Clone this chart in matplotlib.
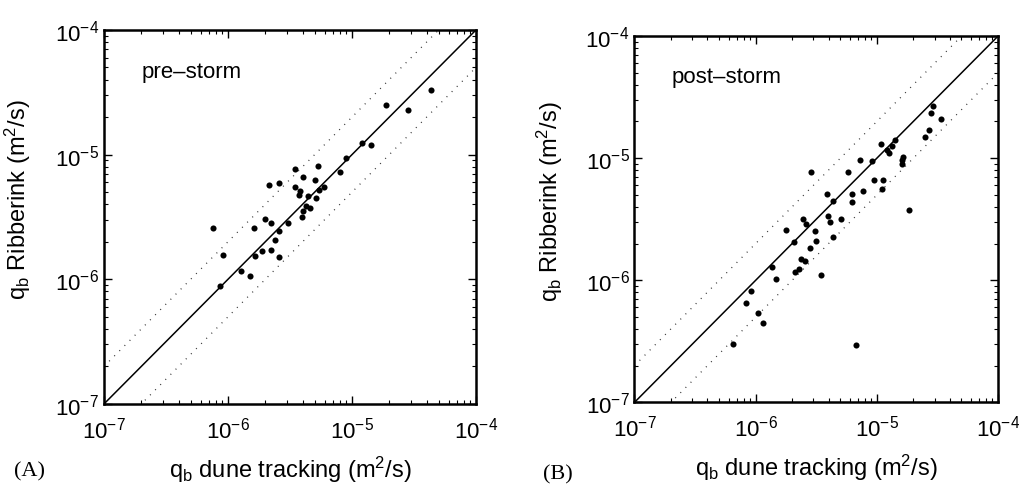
import matplotlib.pyplot as plt
import numpy as np

plt.rcParams['font.family'] = ['Liberation Sans', 'DejaVu Sans']
plt.rcParams['mathtext.fontset'] = 'custom'
plt.rcParams['mathtext.rm'] = 'Liberation Sans'
plt.rcParams['mathtext.it'] = 'Liberation Sans:italic'

# log10 of q_b values (m^2/s)
pre_log_tracking = [-4.365, -4.723, -4.548, -4.919, -4.849, -5.048, -5.099, -5.462, -5.277, -5.395,
                    -5.296, -5.667, -5.591, -5.457, -5.419, -5.425, -5.352, -5.264, -5.228, -5.293,
                    -5.371, -5.339, -5.398, -5.401, -5.699, -5.653, -5.519, -5.788, -6.123, -5.586,
                    -5.621, -5.728, -5.656, -5.780, -6.038, -5.591, -5.893, -5.823, -6.062]
pre_log_ribberink = [-4.481, -4.604, -4.642, -4.909, -4.923, -5.027, -5.141, -5.113, -5.088, -5.179,
                     -5.201, -5.246, -5.230, -5.257, -5.291, -5.324, -5.329, -5.281, -5.262, -5.345,
                     -5.409, -5.430, -5.449, -5.497, -5.519, -5.551, -5.548, -5.586, -5.591, -5.612,
                     -5.685, -5.770, -5.762, -5.810, -5.802, -5.821, -5.933, -5.973, -6.051]

post_log_tracking = [-4.535, -4.554, -4.568, -4.601, -4.848, -4.875, -4.966, -4.917, -4.898, -4.782,
                     -4.790, -4.795, -5.038, -5.137, -5.238, -5.546, -5.021, -4.950, -4.958, -5.112,
                     -5.412, -5.203, -5.208, -5.360, -4.733, -5.403, -5.389, -5.294, -5.607, -5.587,
                     -5.752, -5.513, -5.502, -5.360, -5.686, -5.554, -5.624, -5.596, -5.645, -5.673,
                     -5.464, -5.868, -5.833, -6.036, -6.078, -5.983, -5.937, -6.187, -5.172, -4.471]
post_log_ribberink = [-4.571, -4.633, -4.770, -4.830, -4.852, -4.898, -4.885, -4.931, -4.956, -4.989,
                      -5.016, -5.043, -5.024, -5.013, -5.116, -5.111, -5.182, -5.179, -5.253, -5.272,
                      -5.294, -5.292, -5.362, -5.349, -5.425, -5.474, -5.523, -5.499, -5.496, -5.537,
                      -5.586, -5.595, -5.676, -5.649, -5.690, -5.734, -5.826, -5.845, -5.911, -5.935,
                      -5.955, -5.892, -5.993, -6.091, -6.184, -6.266, -6.353, -6.520, -6.528, -4.680]

limits = (1e-7, 1e-4)
factor = 2.0


def draw_panel(ax, x_log, y_log, label):
    line = np.array(limits)
    ax.plot(line, line, color='black', lw=1.1)
    ax.plot(line, line * factor, color='#333333', lw=0.9, linestyle=(0, (0.8, 5)))
    ax.plot(line, line / factor, color='#333333', lw=0.9, linestyle=(0, (0.8, 5)))
    ax.plot(10 ** np.array(x_log), 10 ** np.array(y_log), 'o', color='black', markersize=4.4,
            markeredgewidth=0)
    ax.set_xscale('log')
    ax.set_yscale('log')
    ax.set_xlim(limits)
    ax.set_ylim(limits)
    ax.tick_params(which='both', direction='in', top=True, right=True, labelsize=16)
    ax.tick_params(which='major', length=6, width=1)
    ax.tick_params(which='minor', length=3, width=0.8)
    ax.tick_params(axis='x', pad=9)
    for s in ax.spines.values():
        s.set_linewidth(1.8)
    ax.text(0.102, 0.89, label, transform=ax.transAxes, fontsize=16, va='center')
    ax.set_xlabel(r'q$_\mathrm{b}$ dune tracking (m$^2$/s)', fontsize=17, labelpad=8)
    ax.set_ylabel(r'q$_\mathrm{b}$ Ribberink (m$^2$/s)', fontsize=17, labelpad=6)
    ax.yaxis.set_label_coords(-0.19, 0.55)


fig = plt.figure(figsize=(10.2, 4.89), dpi=100)
ax_a = fig.add_axes([0.102, 0.172, 0.3647, 0.7648])
ax_b = fig.add_axes([0.622, 0.175, 0.3564, 0.749])

draw_panel(ax_a, pre_log_tracking, pre_log_ribberink, 'pre–storm')
draw_panel(ax_b, post_log_tracking, post_log_ribberink, 'post–storm')

fig.text(0.014, 0.035, '(A)', fontsize=16, family='Liberation Serif', va='center')
fig.text(0.532, 0.029, '(B)', fontsize=16, family='Liberation Serif', va='center')

fig.savefig('out.png', dpi=100)
